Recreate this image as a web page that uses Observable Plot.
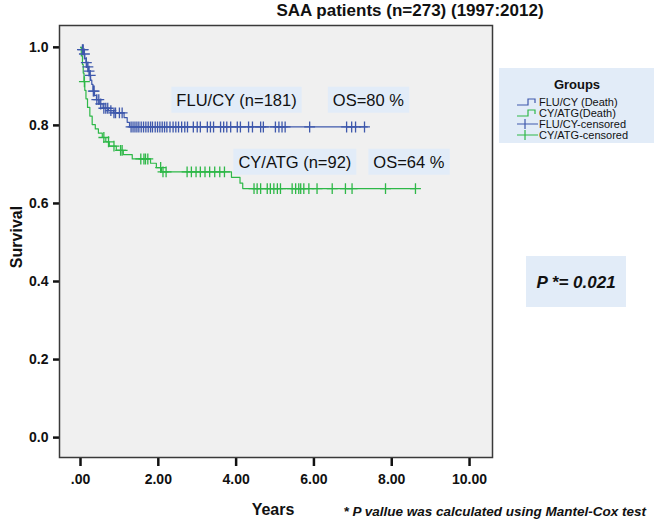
<!DOCTYPE html>
<html><head><meta charset="utf-8">
<script src="https://cdn.jsdelivr.net/npm/d3@7"></script>
<script src="https://cdn.jsdelivr.net/npm/@observablehq/plot@0.6"></script>
<style>
body{margin:0;background:#fff;}
#chart{width:654px;height:524px;}
</style></head><body><div id="chart"></div>
<script>
// ---- Data ----
const titleText = "SAA patients (n=273) (1997:2012)";
const xTicks = [0, 2, 4, 6, 8, 10];
const xTickLabels = [".00", "2.00", "4.00", "6.00", "8.00", "10.00"];
const yTicks = [0, 0.2, 0.4, 0.6, 0.8, 1.0];

// FLU/CY: step times (years) and survival after each step
const fluTimes = [0, 0.04, 0.08, 0.11, 0.14, 0.17, 0.20, 0.23, 0.26, 0.29, 0.32, 0.36, 0.41, 0.48, 0.58, 0.72, 0.85, 1.12, 1.20, 1.26];
const fluSurv  = [1.0, 0.994, 0.983, 0.972, 0.961, 0.950, 0.939, 0.928, 0.916, 0.905, 0.888, 0.877, 0.866, 0.855, 0.844, 0.838, 0.832, 0.820, 0.808, 0.796];
const fluEnd = 7.37;
const fluCensored = [0.05, 0.07, 0.10, 0.15, 0.19, 0.22, 0.25, 0.33, 0.35, 0.42, 0.47, 0.52, 0.60, 0.65, 0.70, 0.78, 0.86, 0.90, 1.00, 1.07,
  1.30, 1.35, 1.40, 1.45, 1.50, 1.56, 1.62, 1.68, 1.74, 1.80, 1.85, 1.92, 1.98, 2.04, 2.10, 2.16, 2.22, 2.30, 2.38, 2.45, 2.52, 2.60, 2.68, 2.75,
  2.90, 3.00, 3.08, 3.26, 3.34, 3.42, 3.60, 3.68, 3.76, 3.86, 4.03, 4.11, 4.32, 4.42, 4.63, 4.70, 5.01, 5.10, 5.18, 5.26, 5.89, 6.84, 6.97, 7.07, 7.30];

// CY/ATG
const atgTimes = [0, 0.02, 0.05, 0.07, 0.09, 0.11, 0.14, 0.18, 0.24, 0.30, 0.38, 0.46, 0.56, 0.65, 0.74, 0.92, 1.10, 1.33, 1.80, 1.95, 2.08, 3.88, 4.10, 4.17];
const atgSurv  = [1.0, 0.978, 0.956, 0.934, 0.912, 0.890, 0.868, 0.846, 0.824, 0.802, 0.791, 0.780, 0.769, 0.758, 0.747, 0.736, 0.725, 0.714, 0.703, 0.692, 0.681, 0.667, 0.652, 0.638];
const atgEnd = 8.61;
const atgCensored = [0.10, 0.60, 0.72, 0.86, 1.03, 1.07, 1.55, 1.63, 1.67, 1.73, 2.06, 2.12, 2.20, 2.74, 2.85, 2.97, 3.08, 3.20, 3.32, 3.45, 3.58, 3.70,
  4.46, 4.54, 4.63, 4.80, 4.88, 4.97, 5.06, 5.14, 5.44, 5.53, 5.61, 5.66, 5.74, 5.87, 6.08, 6.47, 6.81, 6.98, 7.84, 8.61];

const groupNames = ["FLU/CY", "CY/ATG"];
const groupColors = ["#3E58AC", "#2EB848"];
const legendLabels = ["FLU/CY (Death)", "CY/ATG(Death)", "FLU/CY-censored", "CY/ATG-censored"];

const annotLabels = ["FLU/CY (n=181)", "OS=80 %", "CY/ATG (n=92)", "OS=64 %"];
const annotX = [4.01, 7.40, 5.51, 8.44];
const annotY = [0.864, 0.864, 0.705, 0.705];
const pText = "P *= 0.021";
const captionText = "* P vallue was calculated using Mantel-Cox test";

// ---- Build tables ----
function stepRows(group, times, surv, end) {
  const rows = times.map((t, i) => ({group, t, s: surv[i]}));
  rows.push({group, t: end, s: surv[surv.length - 1]});
  return rows;
}
function survAt(times, surv, t) {
  let s = surv[0];
  for (let i = 0; i < times.length; i++) if (times[i] <= t) s = surv[i];
  return s;
}
const lineRows = [...stepRows("FLU/CY", fluTimes, fluSurv, fluEnd), ...stepRows("CY/ATG", atgTimes, atgSurv, atgEnd)];
const censorRows = [
  ...fluCensored.map(t => ({group: "FLU/CY", t, s: survAt(fluTimes, fluSurv, t)})),
  ...atgCensored.map(t => ({group: "CY/ATG", t, s: survAt(atgTimes, atgSurv, t)}))
];
const annots = annotLabels.map((label, i) => ({label, x: annotX[i], y: annotY[i]}));

const font = "'Liberation Sans', Arial, Helvetica, sans-serif";

const chart = Plot.plot({
  width: 654, height: 524,
  marginLeft: 59, marginRight: 162, marginTop: 25, marginBottom: 67,
  style: {fontFamily: font, fontSize: "14px", fontWeight: "bold", color: "#111", background: "#fff"},
  x: {domain: [-0.54, 10.59], ticks: xTicks, label: null},
  y: {domain: [-0.051, 1.056], ticks: yTicks, label: null},
  color: {domain: groupNames, range: groupColors},
  marks: [
    Plot.frame({fill: "#f0f0f0"}),
    Plot.axisX({ticks: xTicks, tickFormat: (d) => xTickLabels[xTicks.indexOf(d)], tickSize: 9, tickPadding: 8, strokeWidth: 2.5, stroke: "#111", fill: "#111", label: null}),
    Plot.axisY({ticks: yTicks, tickFormat: d => d.toFixed(1), tickSize: 6, tickPadding: 5, strokeWidth: 2.5, stroke: "#111", fill: "#111", label: null}),
    Plot.line(lineRows, {x: "t", y: "s", z: "group", stroke: "group", curve: "step-after", strokeWidth: 1.2}),
    Plot.dot(censorRows, {x: "t", y: "s", stroke: "group", symbol: "plus", r: 3.6, strokeWidth: 1.3}),
    Plot.text(annots, {x: "x", y: "y", text: "label", fontSize: 16.5, fontWeight: "normal", fill: "#111"}),
    Plot.frame({stroke: "#3a3a3a", strokeWidth: 1.5})
  ]
});
document.getElementById("chart").appendChild(chart);

const svg = d3.select(chart);
// light-blue boxes behind annotation texts
svg.selectAll('g[aria-label="text"] text').each(function() {
  const bb = this.getBBox();
  const r = document.createElementNS("http://www.w3.org/2000/svg", "rect");
  r.setAttribute("x", bb.x - 5); r.setAttribute("y", bb.y - 4);
  r.setAttribute("width", bb.width + 10); r.setAttribute("height", bb.height + 8);
  r.setAttribute("fill", "#e2ecf8");
  const tr = this.getAttribute("transform"); if (tr) r.setAttribute("transform", tr);
  this.parentNode.insertBefore(r, this);
});

// title
svg.append("text").attr("x", 410).attr("y", 16).attr("text-anchor", "middle")
  .attr("font-size", 17).attr("font-weight", "bold").attr("fill", "#111").text(titleText);
// axis labels
svg.append("text").attr("transform", "translate(16,237) rotate(-90)").attr("text-anchor", "middle")
  .attr("dy", "0.35em").attr("font-size", 16).attr("font-weight", "bold").attr("fill", "#111").text("Survival");
svg.append("text").attr("x", 273).attr("y", 515).attr("text-anchor", "middle")
  .attr("font-size", 16).attr("font-weight", "bold").attr("fill", "#111").text("Years");
// caption
svg.append("text").attr("x", 646).attr("y", 516).attr("text-anchor", "end")
  .attr("font-size", 13.5).attr("font-weight", "bold").attr("font-style", "italic").attr("fill", "#111").text(captionText);
// P box
svg.append("rect").attr("x", 526).attr("y", 256).attr("width", 100).attr("height", 51).attr("fill", "#e2ecf8");
svg.append("text").attr("x", 576).attr("y", 282).attr("dy", "0.35em").attr("text-anchor", "middle")
  .attr("font-size", 17).attr("font-weight", "bold").attr("font-style", "italic").attr("fill", "#111").text(pText);

// legend
const lg = svg.append("g");
lg.append("rect").attr("x", 499).attr("y", 68).attr("width", 160).attr("height", 75).attr("fill", "#e2ecf8");
lg.append("text").attr("x", 577).attr("y", 84).attr("dy", "0.35em").attr("text-anchor", "middle")
  .attr("font-size", 13).attr("font-weight", "bold").attr("fill", "#111").text("Groups");
const entryY = [102, 113, 124, 135];
legendLabels.forEach((lab, i) => {
  const y = entryY[i];
  const col = groupColors[i % 2];
  if (i < 2) {
    lg.append("path").attr("d", `M517,${y + 3}H528V${y - 3}H535V${y + 1}`).attr("fill", "none")
      .attr("stroke", col).attr("stroke-width", 1.2);
  } else {
    lg.append("path").attr("d", `M517,${y}H538M525,${y - 5}V${y + 5}`).attr("fill", "none")
      .attr("stroke", col).attr("stroke-width", 1.2);
  }
  lg.append("text").attr("x", 539).attr("y", y).attr("dy", "0.35em").attr("text-anchor", "start").attr("font-size", 11)
    .attr("font-weight", "normal").attr("fill", "#111").text(lab);
});
</script></body></html>
